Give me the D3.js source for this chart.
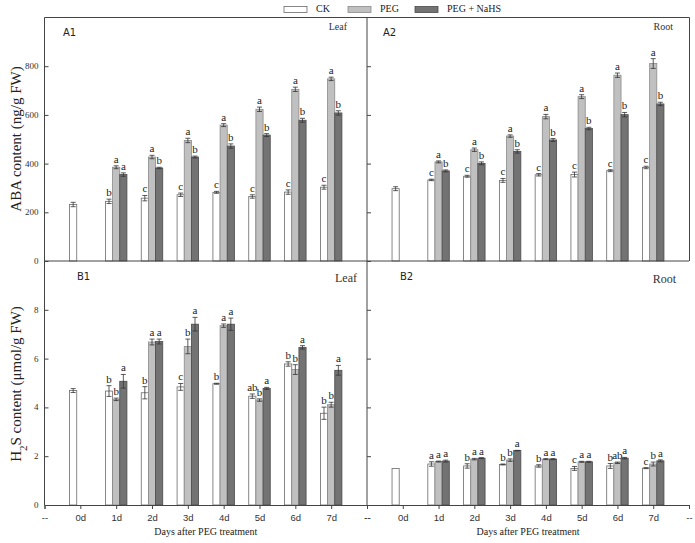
<!DOCTYPE html>
<html><head><meta charset="utf-8">
<script src="https://cdn.jsdelivr.net/npm/d3@7"></script>
<style>body{margin:0;background:#fff}</style>
</head><body>
<script>
// ---------- DATA ----------
const days = [0,1,2,3,4,5,6,7];
const xTickLabels = ["--","0d","1d","2d","3d","4d","5d","6d","7d","--"];
const seriesNames = ["CK","PEG","PEG + NaHS"];
const abaTicks = [0,200,400,600,800];
const h2sTicks = [0,2,4,6,8];

// A1: ABA leaf
const abaLeafCK    = [232,245,258,272,282,265,283,303];
const abaLeafCKErr = [9,9,11,7,4,7,9,8];
const abaLeafPEG   = [null,385,427,495,558,623,705,748];
const abaLeafPEGErr= [null,6,7,9,6,9,9,7];
const abaLeafNaHS  = [null,355,382,427,472,517,578,608];
const abaLeafNaHSErr=[null,7,3,4,9,6,8,9];
const abaLeafLetters = [[null,null,null],["b","a","a"],["c","a","b"],["c","a","b"],["c","a","b"],["c","a","b"],["c","a","b"],["c","a","b"]];

// A2: ABA root
const abaRootCK    = [297,333,348,331,354,355,371,384];
const abaRootCKErr = [8,3,4,8,5,10,4,5];
const abaRootPEG   = [null,407,457,513,593,675,763,811];
const abaRootPEGErr= [null,4,7,5,9,8,9,20];
const abaRootNaHS  = [null,370,401,450,497,544,601,645];
const abaRootNaHSErr=[null,4,6,7,6,5,9,7];
const abaRootLetters = [[null,null,null],["c","a","b"],["c","a","b"],["c","a","b"],["c","a","b"],["c","a","b"],["c","a","b"],["c","a","b"]];

// B1: H2S leaf
const h2sLeafCK    = [4.69,4.67,4.60,4.84,4.97,4.46,5.78,3.76];
const h2sLeafCKErr = [0.08,0.22,0.25,0.14,0.02,0.09,0.09,0.25];
const h2sLeafPEG   = [null,4.33,6.68,6.50,7.35,4.30,5.55,4.11];
const h2sLeafPEGErr= [null,0.05,0.12,0.30,0.07,0.05,0.20,0.10];
const h2sLeafNaHS  = [null,5.07,6.70,7.41,7.41,4.78,6.46,5.52];
const h2sLeafNaHSErr=[null,0.28,0.10,0.28,0.25,0.04,0.07,0.20];
const h2sLeafLetters = [[null,null,null],["b","b","a"],["b","a","a"],["c","b","a"],["b","a","a"],["ab","b","a"],["b","b","a"],["b","b","a"]];

// B2: H2S root
const h2sRootCK    = [1.50,1.68,1.60,1.66,1.60,1.50,1.60,1.51];
const h2sRootCKErr = [0,0.09,0.09,0.02,0.05,0.08,0.10,0.02];
const h2sRootPEG   = [null,1.78,1.88,1.84,1.88,1.77,1.73,1.68];
const h2sRootPEGErr= [null,0.02,0.03,0.05,0.02,0.02,0.03,0.08];
const h2sRootNaHS  = [null,1.80,1.92,2.23,1.88,1.77,1.92,1.81];
const h2sRootNaHSErr=[null,0.04,0.02,0.01,0.02,0.02,0.03,0.04];
const h2sRootLetters = [[null,null,null],["a","a","a"],["b","a","a"],["b","b","a"],["b","a","a"],["c","a","a"],["b","ab","a"],["c","b","a"]];

// ---------- STYLE ----------
const fills = ["#ffffff","#c0c0c0","#737373"];
const strokes = ["#6a6a6a","#8a8a8a","#4a4a4a"];
const serif = "'Liberation Serif','Times New Roman',serif";
const sans = "'Liberation Sans',Arial,sans-serif";
const axisColor = "#444";

const svg = d3.select("body").append("svg").attr("width",695).attr("height",543);

const panels = [
  {label:"A1", tissue:"Leaf", left:44.5, right:367, top:17.5, bottom:261, max:1000, ticks:abaTicks, labels:true,
   vals:[abaLeafCK,abaLeafPEG,abaLeafNaHS], errs:[abaLeafCKErr,abaLeafPEGErr,abaLeafNaHSErr], letters:abaLeafLetters, xlab:false,
   labPos:[63,36], tisPos:[347,30], tisSize:10},
  {label:"A2", tissue:"Root", left:367, right:689, top:17.5, bottom:261, max:1000, ticks:abaTicks, labels:false,
   vals:[abaRootCK,abaRootPEG,abaRootNaHS], errs:[abaRootCKErr,abaRootPEGErr,abaRootNaHSErr], letters:abaRootLetters, xlab:false,
   labPos:[383,36], tisPos:[673,30], tisSize:10},
  {label:"B1", tissue:"Leaf", left:44.5, right:367, top:261, bottom:505, max:10, ticks:h2sTicks, labels:true,
   vals:[h2sLeafCK,h2sLeafPEG,h2sLeafNaHS], errs:[h2sLeafCKErr,h2sLeafPEGErr,h2sLeafNaHSErr], letters:h2sLeafLetters, xlab:true,
   labPos:[77,280], tisPos:[357,282], tisSize:12},
  {label:"B2", tissue:"Root", left:367, right:689, top:261, bottom:505, max:10, ticks:h2sTicks, labels:false,
   vals:[h2sRootCK,h2sRootPEG,h2sRootNaHS], errs:[h2sRootCKErr,h2sRootPEGErr,h2sRootNaHSErr], letters:h2sRootLetters, xlab:true,
   labPos:[400,280], tisPos:[676,283], tisSize:12}
];

panels.forEach(p => {
  const g = svg.append("g");
  const x = d3.scaleLinear().domain([-1,8]).range([p.left,p.right]);
  const y = d3.scaleLinear().domain([0,p.max]).range([p.bottom,p.top]);
  const step = x(1)-x(0);
  const bw = step*0.2;
  const offs = [-bw,0,bw];

  // bars
  for (let s=0;s<3;s++){
    const data = days.map((d,i)=>({d, v:p.vals[s][i], e:p.errs[s][i], l:p.letters[i][s]})).filter(o=>o.v!=null);
    g.selectAll(null).data(data).enter().append("rect")
      .attr("x",o=>x(o.d)+offs[s]-bw/2).attr("width",bw)
      .attr("y",o=>y(o.v)).attr("height",o=>y(0)-y(o.v))
      .attr("fill",fills[s]).attr("stroke",strokes[s]).attr("stroke-width",0.8);
    // error bars
    data.filter(o=>o.e>0).forEach(o=>{
      const cx = x(o.d)+offs[s];
      g.append("line").attr("x1",cx).attr("x2",cx).attr("y1",y(o.v+o.e)).attr("y2",y(o.v-o.e)).attr("stroke","#333").attr("stroke-width",0.8);
      [o.v+o.e,o.v-o.e].forEach(v=>g.append("line").attr("x1",cx-2.5).attr("x2",cx+2.5).attr("y1",y(v)).attr("y2",y(v)).attr("stroke","#333").attr("stroke-width",0.8));
    });
    // letters
    g.selectAll(null).data(data.filter(o=>o.l)).enter().append("text")
      .attr("x",o=>x(o.d)+offs[s]).attr("y",o=>y(o.v+o.e)-3)
      .attr("text-anchor","middle").attr("font-family",serif).attr("font-size",11).attr("fill","#222")
      .text(o=>o.l);
  }

  // y axis ticks (inward)
  const yAxis = d3.axisRight(y).tickValues(p.ticks).tickSize(4).tickFormat("");
  const ya = g.append("g").attr("transform",`translate(${p.left},0)`).call(yAxis);
  ya.select(".domain").remove();
  ya.selectAll("line").attr("stroke",axisColor);
  if (p.labels){
    g.selectAll(null).data(p.ticks).enter().append("text")
      .attr("x",p.left-6).attr("y",d=>y(d)+3)
      .attr("text-anchor","end").attr("font-family",serif).attr("font-size",9).attr("fill","#333")
      .text(d=>d);
  }

  // x axis (bottom)
  if (p.xlab){
    const xAxis = d3.axisBottom(x).tickValues(d3.range(-1,9)).tickSize(4)
      .tickFormat((d,i)=>xTickLabels[i]);
    const xa = g.append("g").attr("transform",`translate(0,${p.bottom})`).call(xAxis);
    xa.select(".domain").attr("stroke",axisColor);
    xa.selectAll("line").attr("stroke",axisColor);
    xa.selectAll("text").attr("font-family",sans).attr("font-size",9.5).attr("fill","#333").attr("dy","0.9em");
    g.append("text").attr("x",(p.left+p.right)/2).attr("y",535).attr("text-anchor","middle")
      .attr("font-family",serif).attr("font-size",10).attr("fill","#222").text("Days after PEG treatment");
  } else {
    g.append("line").attr("x1",p.left).attr("x2",p.right).attr("y1",p.bottom).attr("y2",p.bottom).attr("stroke",axisColor).attr("stroke-width",1);
  }

  // panel labels
  g.append("text").attr("x",p.labPos[0]).attr("y",p.labPos[1]).attr("font-family","'DejaVu Sans',sans-serif").attr("font-size",10).attr("fill","#222").text(p.label);
  g.append("text").attr("x",p.tisPos[0]).attr("y",p.tisPos[1]).attr("text-anchor","end").attr("font-family",serif).attr("font-size",p.tisSize).attr("fill","#333").text(p.tissue);
});

// frame lines
const frame = [
  [44.5,17.5,689.5,17.5],
  [44.5,17.5,44.5,505],
  [367,17.5,367,505],
  [689.5,17.5,689.5,261]
];
frame.forEach(f=>svg.append("line").attr("x1",f[0]).attr("y1",f[1]).attr("x2",f[2]).attr("y2",f[3]).attr("stroke",axisColor).attr("stroke-width",1));

// y titles
svg.append("text").attr("transform","translate(21,139) rotate(-90)").attr("text-anchor","middle")
  .attr("font-family",serif).attr("font-size",15).attr("fill","#222").text("ABA content (ng/g FW)");
const t2 = svg.append("text").attr("transform","translate(21,384) rotate(-90)").attr("text-anchor","middle")
  .attr("font-family",serif).attr("font-size",15).attr("fill","#222");
t2.append("tspan").text("H");
t2.append("tspan").attr("baseline-shift","sub").attr("font-size",11).text("2");
t2.append("tspan").text("S content (μmol/g FW)");

// legend
const legX = [284,348,415];
seriesNames.forEach((n,i)=>{
  svg.append("rect").attr("x",legX[i]).attr("y",6.5).attr("width",23).attr("height",6)
    .attr("fill",fills[i]).attr("stroke",strokes[i]).attr("stroke-width",0.8);
  svg.append("text").attr("x",legX[i]+32).attr("y",12).attr("font-family",serif).attr("font-size",10).attr("fill","#222").text(n);
});
</script>
</body></html>
